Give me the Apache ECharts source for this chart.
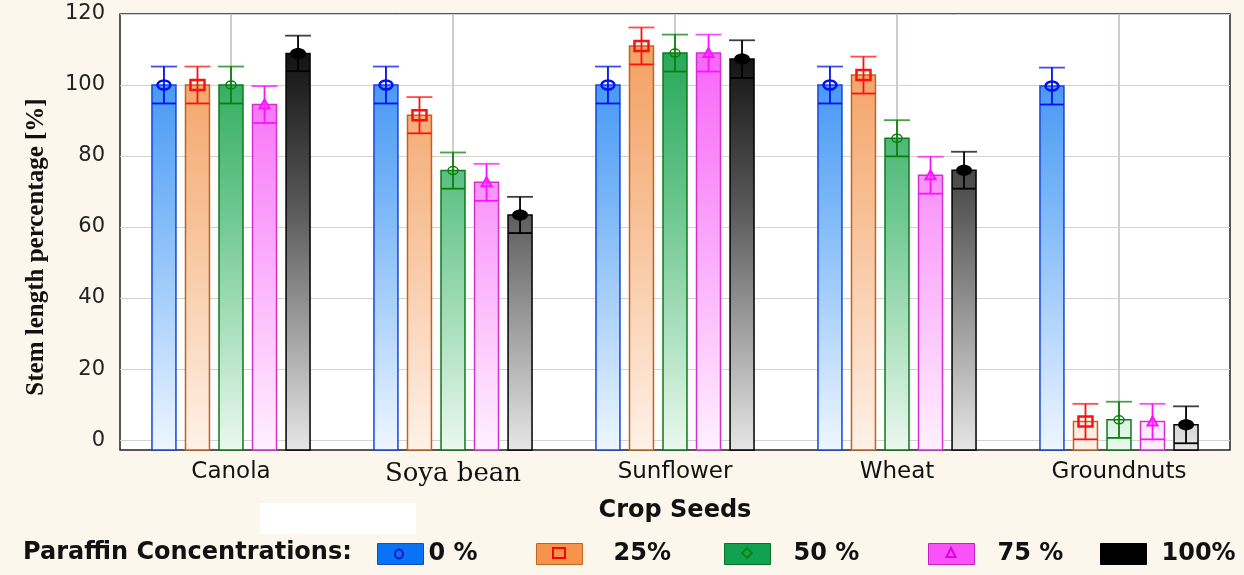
<!DOCTYPE html>
<html>
<head>
<meta charset="utf-8">
<title>Stem length percentage</title>
<script src="https://cdn.jsdelivr.net/npm/echarts@6/dist/echarts.min.js"></script>
<style>
  html, body { margin: 0; padding: 0; background: #fcf7ed; }
  #main { width: 1244px; height: 575px; }
</style>
</head>
<body>
<div id="main"></div>
<script>
// data
var categories = ['Canola', 'Soya bean', 'Sunflower', 'Wheat', 'Groundnuts'];
var seriesNames = ['0 %', '25%', '50 %', '75 %', '100%'];
var c0 = [100, 100, 100, 100, 99.7];
var c25 = [100, 91.5, 111, 102.8, 5.2];
var c50 = [100, 75.9, 109, 85, 5.7];
var c75 = [94.5, 72.6, 109, 74.6, 5.2];
var c100 = [108.9, 63.4, 107.3, 76, 4.3];
var e0 = [5.2, 5.2, 5.2, 5.2, 5.2];
var e25 = [5.2, 5.1, 5.2, 5.2, 5.0];
var e50 = [5.2, 5.1, 5.2, 5.1, 5.1];
var e75 = [5.2, 5.2, 5.2, 5.2, 5.0];
var e100 = [5.0, 5.1, 5.3, 5.2, 5.2];
var yTicks = [0, 20, 40, 60, 80, 100, 120];

var values = [c0, c25, c50, c75, c100];
var errors = [e0, e25, e50, e75, e100];

// look of each concentration
var looks = [
  { top: '#2b87f2', mid: '#7db8f8', low: '#eef6ff', border: '#1846d8', mark: '#0010f0', legend: '#0a72f5', legendBorder: '#0a50c0' },
  { top: '#f39a58', mid: '#f7bf94', low: '#fff1e8', border: '#c0641e', mark: '#ff1010', legend: '#f5944a', legendBorder: '#c0641e' },
  { top: '#17a04c', mid: '#6cc78f', low: '#eaf8ee', border: '#0e7a1c', mark: '#0a800a', legend: '#10a24e', legendBorder: '#0a7030' },
  { top: '#f857f8', mid: '#fa9cfa', low: '#fff0ff', border: '#d032d0', mark: '#ff10ff', legend: '#f852f8', legendBorder: '#c020c0' },
  { top: '#000000', mid: '#5a5a5a', low: '#e6e6e6', border: '#000000', mark: '#000000', legend: '#000000', legendBorder: '#000000' }
];

function drawMarker(k, cx, cy, color) {
  if (k === 0) {
    return { type: 'ellipse', shape: { cx: cx, cy: cy, rx: 6.5, ry: 4.5 }, style: { fill: 'none', stroke: color, lineWidth: 2.5 } };
  } else if (k === 1) {
    return { type: 'rect', shape: { x: cx - 7, y: cy - 5, width: 14, height: 10 }, style: { fill: 'none', stroke: color, lineWidth: 2.5 } };
  } else if (k === 2) {
    return { type: 'ellipse', shape: { cx: cx, cy: cy, rx: 5, ry: 4 }, style: { fill: 'none', stroke: color, lineWidth: 1.5 } };
  } else if (k === 3) {
    return { type: 'polygon', shape: { points: [[cx - 5, cy + 4], [cx + 5, cy + 4], [cx, cy - 5]] }, style: { fill: 'rgba(255,80,255,0.4)', stroke: color, lineWidth: 2 } };
  }
  return { type: 'ellipse', shape: { cx: cx, cy: cy, rx: 8, ry: 5.5 }, style: { fill: color } };
}

function makeRender(k) {
  return function (params, api) {
    var ci = api.value(0), v = api.value(1), e = api.value(2);
    var band = api.size([1, 0])[0];
    var cx = api.coord([ci, 0])[0] + (k - 2) * band * 0.151;
    var w = band * 0.108;
    var top = api.coord([ci, v])[1];
    var hi = api.coord([ci, v + e])[1];
    var lo = api.coord([ci, v - e])[1];
    var cs = params.coordSys;
    var base = cs.y + cs.height;
    var lk = looks[k];
    // gradient over the whole plot height, so low bars stay pale
    var fill = new echarts.graphic.LinearGradient(0, cs.y, 0, base, [
      { offset: 0, color: lk.top },
      { offset: 0.45, color: lk.mid },
      { offset: 1, color: lk.low }
    ], true);
    var eb = { stroke: lk.mark, lineWidth: 1.8 };
    return {
      type: 'group',
      children: [
        { type: 'rect', shape: { x: cx - w / 2, y: top, width: w, height: base - top }, style: { fill: fill, stroke: lk.border, lineWidth: 1.5 } },
        { type: 'line', shape: { x1: cx, y1: hi, x2: cx, y2: lo }, style: eb },
        { type: 'line', shape: { x1: cx - w / 2 - 1, y1: hi, x2: cx + w / 2 + 1, y2: hi }, style: { stroke: lk.mark, lineWidth: 1.8, opacity: 0.75 } },
        { type: 'line', shape: { x1: cx - w / 2, y1: lo, x2: cx + w / 2, y2: lo }, style: eb },
        drawMarker(k, cx, top, lk.mark)
      ]
    };
  };
}

var series = [{
  name: 'centres',
  type: 'custom',
  silent: true,
  z: 1,
  data: categories.map(function (c, i) { return [i]; }),
  encode: { x: 0 },
  renderItem: function (params, api) {
    var x = api.coord([api.value(0), 0])[0];
    var cs = params.coordSys;
    return { type: 'line', shape: { x1: x, y1: cs.y, x2: x, y2: cs.y + cs.height }, style: { stroke: '#c9d0c9', lineWidth: 2 } };
  }
}];
seriesNames.forEach(function (name, k) {
  series.push({
    name: name,
    type: 'custom',
    z: 3,
    itemStyle: { color: looks[k].legend },
    data: categories.map(function (c, i) { return [i, values[k][i], errors[k][i]]; }),
    encode: { x: 0, y: 1 },
    renderItem: makeRender(k)
  });
});

// one legend block per entry, to place them like the figure
var legendLeft = [377, 536, 724, 928, 1100];
var legendPad = [0, 26, 18, 18, 10];
var legends = seriesNames.map(function (name, k) {
  return {
    left: legendLeft[k], top: 542, padding: 0,
    selectedMode: false,
    itemWidth: 46, itemHeight: 21,
    data: [{ name: name, icon: 'rect', itemStyle: { color: looks[k].legend, borderColor: looks[k].legendBorder, borderWidth: 1 } }],
    textStyle: { fontFamily: 'DejaVu Sans', fontWeight: 'bold', fontSize: 24, color: '#111', padding: [0, 0, 0, legendPad[k]] }
  };
});

var legendMarks = [];
[0, 1, 2, 3].forEach(function (k) {
  var cx = legendLeft[k] + 23, cy = 553;
  var m;
  if (k === 0) m = { type: 'ellipse', shape: { cx: cx - 1, cy: cy + 1, rx: 4, ry: 4.5 }, style: { fill: 'none', stroke: '#0018c8', lineWidth: 2 } };
  if (k === 1) m = { type: 'rect', shape: { x: cx - 6, y: cy - 5, width: 12, height: 10 }, style: { fill: 'none', stroke: '#ff0000', lineWidth: 2 } };
  if (k === 2) m = { type: 'polygon', shape: { points: [[cx, cy - 5], [cx + 5, cy], [cx, cy + 5], [cx - 5, cy]] }, style: { fill: 'none', stroke: '#0a7a0a', lineWidth: 1.5 } };
  if (k === 3) m = { type: 'polygon', shape: { points: [[cx, cy - 5], [cx + 4.5, cy + 4], [cx - 4.5, cy + 4]] }, style: { fill: 'none', stroke: '#e000e0', lineWidth: 2 } };
  m.z = 100;
  legendMarks.push(m);
});

var myChart = echarts.init(document.getElementById('main'));
myChart.setOption({
  backgroundColor: '#fcf7ed',
  animation: false,
  grid: { left: 120, right: 14, top: 14, bottom: 125, show: true, backgroundColor: '#ffffff', borderColor: '#222', borderWidth: 1.5 },
  legend: legends,
  graphic: [
    { type: 'rect', left: 260, top: 503, shape: { width: 156, height: 31 }, style: { fill: '#ffffff' } },
    { type: 'text', left: 23, top: 541, style: { text: 'Paraffin Concentrations:', font: 'bold 24px "DejaVu Sans"', fill: '#111' } }
  ].concat(legendMarks),
  xAxis: {
    type: 'category',
    data: categories,
    boundaryGap: true,
    axisLine: { show: false },
    axisTick: { show: false },
    splitLine: { show: false },
    axisLabel: {
      margin: 11,
      fontFamily: 'DejaVu Sans', fontSize: 23, color: '#111',
      formatter: function (v) { return v === 'Soya bean' ? '{s|' + v + '}' : v; },
      rich: { s: { fontFamily: 'DejaVu Serif', fontSize: 26, color: '#111' } }
    },
    name: 'Crop Seeds',
    nameLocation: 'middle',
    nameGap: 49,
    nameTextStyle: { fontFamily: 'DejaVu Sans', fontWeight: 'bold', fontSize: 24, color: '#111' }
  },
  yAxis: {
    type: 'value',
    min: -2.8,
    max: 120,
    axisLine: { show: false },
    axisTick: { show: false, customValues: yTicks },
    axisLabel: { customValues: yTicks, margin: 15, fontFamily: 'DejaVu Sans', fontSize: 21, color: '#222' },
    splitLine: { show: true, lineStyle: { color: '#d2d2d2', width: 1 } },
    name: 'Stem length percentage [%]',
    nameLocation: 'middle',
    nameGap: 71,
    nameTextStyle: { fontFamily: 'Liberation Serif', fontWeight: 'bold', fontSize: 25, color: '#111', padding: [0, 30, 0, 0] }
  },
  series: series
});
</script>
</body>
</html>
